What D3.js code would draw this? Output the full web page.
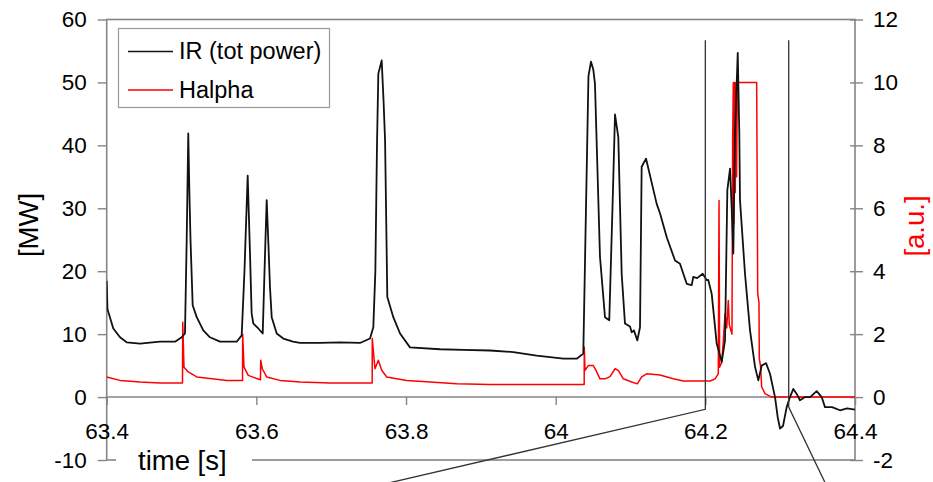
<!DOCTYPE html>
<html>
<head>
<meta charset="utf-8">
<script src="https://cdn.jsdelivr.net/npm/d3@7"></script>
<style>
  html, body { margin: 0; padding: 0; background: #fff; }
  svg { display: block; font-family: "Liberation Sans", Arial, sans-serif; }
</style>
</head>
<body>
<svg id="chart" width="933" height="482"></svg>
<script>
// ---------- data ----------
const irTime = [63.4,63.401,63.4088,63.4178,63.4267,63.4445,63.4712,63.4913,63.5002,63.5046,63.5069,63.509,63.5106,63.512,63.5149,63.5203,63.5291,63.538,63.5514,63.5737,63.5804,63.5841,63.5884,63.5915,63.5937,63.5959,63.6026,63.6085,63.6109,63.6138,63.6162,63.6182,63.6205,63.6272,63.636,63.649,63.6583,63.685,63.7118,63.7385,63.7519,63.7563,63.759,63.7612,63.763,63.7675,63.77,63.772,63.775,63.783,63.792,63.8053,63.8454,63.8766,63.9122,63.9434,63.9746,64.0102,64.0281,64.0369,64.0438,64.0472,64.0503,64.0525,64.0592,64.0659,64.0716,64.0759,64.0793,64.0837,64.0882,64.0926,64.0993,64.1016,64.1046,64.1091,64.1127,64.1149,64.1207,64.135,64.1394,64.1484,64.1595,64.1661,64.1751,64.1818,64.1839,64.1889,64.1965,64.2018,64.2039,64.2085,64.2152,64.2219,64.2263,64.2294,64.233,64.2352,64.2374,64.2396,64.2433,64.2454,64.2463,64.253,64.2597,64.2664,64.2708,64.2753,64.2811,64.2864,64.2931,64.2967,64.2998,64.3038,64.3087,64.3131,64.3176,64.3221,64.3265,64.3332,64.3399,64.3488,64.3555,64.3599,64.3693,64.38,64.3893,64.4];
const irPower = [18.5,14.0,10.9,9.5,8.7,8.5,8.8,8.8,9.5,10.1,25,41.9,32,25,14.6,12.7,10.6,9.5,8.8,8.8,9.8,20,35.2,22.8,13.3,11.7,10.9,10.1,20,31.3,24,17.5,12.7,10.1,9.3,8.8,8.6,8.6,8.7,8.6,9.3,11.1,19.9,40,51.4,53.5,47,40.8,15.9,12.7,10.1,7.9,7.6,7.5,7.4,7.15,6.6,6.1,6.1,6.9,51,53.3,52,49.8,22.3,12.7,12.2,30,44.9,41.3,19.6,11.7,11.2,10.3,10.6,9.0,11.1,36.6,37.9,30.7,29.2,25.4,21.7,21.2,18.0,17.8,19.1,18.9,19.6,18.6,18.6,16.4,8.5,5.6,9.0,32.9,36.3,30,22.8,41.9,54.7,41.9,31.3,19.6,10.6,4.8,2.65,5.0,5.4,3.7,0,-3.2,-5.0,-4.6,-1.6,0,1.3,0.5,-0.5,0,0,0.95,0,-1.6,-1.6,-2.1,-1.8,-2.0];

const haTime = [63.4,63.4178,63.4445,63.4712,63.5013,63.5016,63.5033,63.509,63.5203,63.538,63.5604,63.5815,63.5817,63.5835,63.5892,63.6004,63.6055,63.6058,63.6079,63.6138,63.6316,63.6583,63.6984,63.7548,63.7549,63.7585,63.763,63.7675,63.7742,63.8009,63.8321,63.8677,63.9122,64.0102,64.0381,64.0382,64.0392,64.0436,64.0503,64.0539,64.0592,64.0659,64.0726,64.0793,64.0837,64.0904,64.1016,64.1091,64.1149,64.1216,64.1394,64.1572,64.1706,64.2063,64.213,64.2173,64.2183,64.2191,64.2219,64.224,64.2263,64.2286,64.2307,64.232,64.2356,64.2365,64.2374,64.2381,64.239,64.24,64.241,64.2418,64.2428,64.2686,64.27,64.2717,64.2721,64.2737,64.2753,64.2797,64.2886,64.4];
const haSignal = [0.64,0.53,0.48,0.45,0.45,2.38,0.95,0.8,0.64,0.59,0.53,0.53,2.0,0.95,0.69,0.59,0.55,1.17,0.9,0.64,0.53,0.48,0.45,0.45,1.86,0.9,1.17,0.85,0.64,0.53,0.48,0.42,0.40,0.40,0.40,1.59,0.85,1.0,1.0,0.85,0.58,0.58,0.65,0.9,0.85,0.58,0.48,0.42,0.64,0.74,0.7,0.58,0.51,0.51,0.58,0.74,6.25,0.95,1.1,1.8,2.65,2.2,3.07,2.3,2.0,8.2,10.0,5.5,10.0,6.5,10.0,7.0,10.0,10.0,3.29,3.0,1.22,1.0,0.32,0.11,0,0];

const xTicks = [63.4, 63.6, 63.8, 64.0, 64.2, 64.4];
const xTickLabels = ["63.4", "63.6", "63.8", "64", "64.2", "64.4"];
const yLeftTicks = [-10, 0, 10, 20, 30, 40, 50, 60];
const yRightTicks = [-2, 0, 2, 4, 6, 8, 10, 12];

// zoom-marker lines (data coordinates: time, MW)
const marker1 = [[64.2, 56.7], [64.2, -1.95], [63.7786, -13.6]];
const marker2 = [[64.3114, 56.7], [64.3114, -1.6], [64.36, -13.6]];

const seriesNames = ["IR (tot power)", "Halpha"];
const seriesColors = ["#111111", "#ff0000"];

// ---------- layout ----------
const L = 106.7, R = 855, T = 19.5, B = 460;
const svg = d3.select("#chart");
const x = d3.scaleLinear().domain([63.4, 64.4]).range([L, R]);
const yL = d3.scaleLinear().domain([-10, 60]).range([B, T]);
const yR = d3.scaleLinear().domain([-2, 12]).range([B, T]);
const grey = "#858585";
const tickFont = "22.5px";
const plain = d => String(d);

// frame
svg.append("rect").attr("x", L).attr("y", T).attr("width", R - L).attr("height", B - T)
  .attr("fill", "none").attr("stroke", grey).attr("stroke-width", 1.6);

// zero line
svg.append("line").attr("x1", L).attr("x2", R).attr("y1", yL(0)).attr("y2", yL(0))
  .attr("stroke", grey).attr("stroke-width", 1.4);

// left axis
const gL = svg.append("g").attr("transform", `translate(${L},0)`)
  .call(d3.axisLeft(yL).tickValues(yLeftTicks).tickSize(9).tickPadding(11).tickFormat(plain));
gL.select(".domain").remove();
gL.selectAll("line").attr("stroke", grey).attr("stroke-width", 1.4);
gL.selectAll("text").attr("font-size", tickFont).attr("fill", "#000")
  .attr("font-family", "'Liberation Sans', Arial, sans-serif");

// right axis
const gR = svg.append("g").attr("transform", `translate(${R},0)`)
  .call(d3.axisRight(yR).tickValues(yRightTicks).tickSize(8).tickPadding(10).tickFormat(plain));
gR.select(".domain").remove();
gR.selectAll("line").attr("x1", -5).attr("stroke", grey).attr("stroke-width", 1.4);
gR.selectAll("text").attr("font-size", tickFont).attr("fill", "#000")
  .attr("font-family", "'Liberation Sans', Arial, sans-serif");

// x axis at y=0
const gX = svg.append("g").attr("transform", `translate(0,${yL(0)})`)
  .call(d3.axisBottom(x).tickValues(xTicks).tickSize(8).tickFormat((d, i) => xTickLabels[i]));
gX.select(".domain").remove();
gX.selectAll("line").attr("stroke", grey).attr("stroke-width", 1.4);
gX.selectAll("text").attr("font-size", tickFont).attr("fill", "#000").attr("y", 25.5)
  .attr("font-family", "'Liberation Sans', Arial, sans-serif");

// clip for traces
svg.append("defs").append("clipPath").attr("id", "plotclip")
  .append("rect").attr("x", L).attr("y", T).attr("width", R - L).attr("height", B - T);

const irData = irTime.map((t, i) => [t, irPower[i]]);
const haData = haTime.map((t, i) => [t, haSignal[i]]);

svg.append("path").datum(haData)
  .attr("clip-path", "url(#plotclip)")
  .attr("fill", "none").attr("stroke", seriesColors[1]).attr("stroke-width", 1.5)
  .attr("stroke-linejoin", "round")
  .attr("d", d3.line().x(d => x(d[0])).y(d => yR(d[1])));

svg.append("path").datum(irData)
  .attr("clip-path", "url(#plotclip)")
  .attr("fill", "none").attr("stroke", seriesColors[0]).attr("stroke-width", 1.8)
  .attr("stroke-linejoin", "round")
  .attr("d", d3.line().x(d => x(d[0])).y(d => yL(d[1])));

// marker lines
const mline = d3.line().x(d => x(d[0])).y(d => yL(d[1]));
[marker1, marker2].forEach(m => {
  svg.append("path").datum(m).attr("fill", "none").attr("stroke", "#333")
    .attr("stroke-width", 1.3).attr("d", mline);
});

// legend
const lg = svg.append("g");
lg.append("rect").attr("x", 118.5).attr("y", 28.5).attr("width", 211).attr("height", 79)
  .attr("fill", "#fff").attr("stroke", "#999").attr("stroke-width", 1.2);
seriesNames.forEach((name, i) => {
  const yy = 51.5 + i * 38.5;
  lg.append("line").attr("x1", 128).attr("x2", 173).attr("y1", yy).attr("y2", yy)
    .attr("stroke", seriesColors[i]).attr("stroke-width", 1.6);
  lg.append("text").attr("x", 179).attr("y", yy + 7.5).attr("font-size", "23.5px")
    .attr("fill", "#000").text(name);
});

// axis titles
svg.append("text").attr("transform", "translate(38,225) rotate(-90)")
  .attr("text-anchor", "middle").attr("font-size", "27.5px").attr("fill", "#000").text("[MW]");
svg.append("text").attr("transform", "translate(924,226) rotate(-90)")
  .attr("text-anchor", "middle").attr("font-size", "27.5px").attr("fill", "#ff0000").text("[a.u.]");
svg.append("rect").attr("x", 116).attr("y", 445).attr("width", 136).attr("height", 37).attr("fill", "#fff");
svg.append("text").attr("x", 138).attr("y", 470).attr("font-size", "27.5px").attr("fill", "#000").text("time [s]");
</script>
</body>
</html>
